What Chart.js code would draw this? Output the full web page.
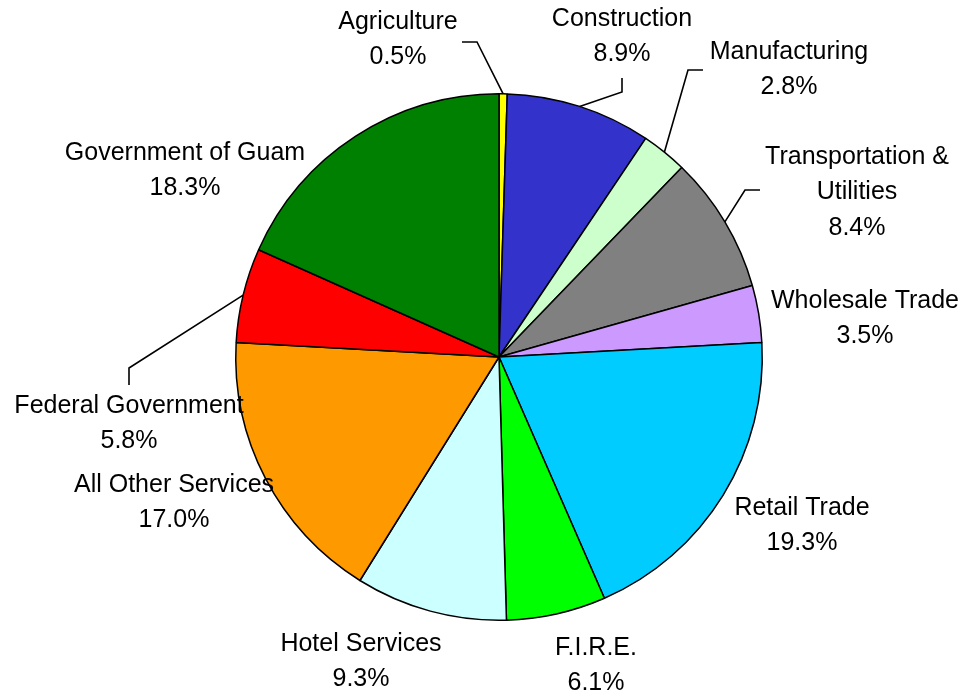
<!DOCTYPE html>
<html>
<head>
<meta charset="utf-8">
<script src="https://cdn.jsdelivr.net/npm/chart.js@4/dist/chart.umd.min.js"></script>
<style>
  html, body { margin: 0; padding: 0; background: #fff; }
  #wrap { width: 968px; height: 694px; }
</style>
</head>
<body>
<div id="wrap"><canvas id="pieChart" width="968" height="694"></canvas></div>
<script>
// sectors, clockwise from 12 o'clock
const sectors = [
  "Agriculture", "Construction", "Manufacturing", "Transportation &\nUtilities",
  "Wholesale Trade", "Retail Trade", "F.I.R.E.", "Hotel Services",
  "All Other Services", "Federal Government", "Government of Guam"
];
const shares = [0.5, 8.9, 2.8, 8.4, 3.5, 19.3, 6.1, 9.3, 17.0, 5.8, 18.3];
const sliceColors = [
  "#FFFF00", "#3333CC", "#CCFFCC", "#808080", "#CC99FF", "#00CCFF",
  "#00FF00", "#CCFFFF", "#FF9900", "#FF0000", "#008000"
];

// label text centre (first line) and optional leader elbow points
const labelSpots = [
  { x: 398, y: 22, lead: [[462, 42], [477, 42]] },
  { x: 622, y: 19, lead: [[622, 78], [622, 92]] },
  { x: 789, y: 52, lead: [[703, 70], [688, 70]] },
  { x: 857, y: 157, lead: [[760, 190], [745, 190]] },
  { x: 865, y: 301 },
  { x: 802, y: 508 },
  { x: 596, y: 648 },
  { x: 361, y: 644 },
  { x: 174, y: 485 },
  { x: 129, y: 406, lead: [[129, 385], [129, 368]] },
  { x: 185, y: 153 }
];

const outsideLabels = {
  id: "outsideLabels",
  afterDraw(chart) {
    const ctx = chart.ctx;
    const arcs = chart.getDatasetMeta(0).data;
    ctx.save();
    ctx.font = "25px 'Liberation Sans', Arial, sans-serif";
    ctx.fillStyle = "#000";
    ctx.strokeStyle = "#000";
    ctx.lineWidth = 1.6;
    ctx.textAlign = "center";
    ctx.textBaseline = "middle";
    arcs.forEach((arc, i) => {
      const spot = labelSpots[i];
      const lines = sectors[i].split("\n").concat([shares[i].toFixed(1) + "%"]);
      lines.forEach((t, k) => ctx.fillText(t, spot.x, spot.y + k * 35.5));
      if (spot.lead) {
        const p = arc.getProps(["x", "y", "startAngle", "endAngle", "outerRadius"], true);
        const mid = (p.startAngle + p.endAngle) / 2;
        ctx.beginPath();
        ctx.moveTo(spot.lead[0][0], spot.lead[0][1]);
        ctx.lineTo(spot.lead[1][0], spot.lead[1][1]);
        ctx.lineTo(p.x + Math.cos(mid) * p.outerRadius, p.y + Math.sin(mid) * p.outerRadius);
        ctx.stroke();
      }
    });
    ctx.restore();
  }
};

new Chart(document.getElementById("pieChart"), {
  type: "pie",
  data: {
    labels: sectors,
    datasets: [{
      data: shares,
      backgroundColor: sliceColors,
      borderColor: "#000",
      borderWidth: 1.5
    }]
  },
  options: {
    responsive: false,
    animation: false,
    layout: { padding: { top: 93, bottom: 73, left: 235, right: 205 } },
    plugins: {
      legend: { display: false },
      tooltip: { enabled: false }
    }
  },
  plugins: [outsideLabels]
});
</script>
</body>
</html>
